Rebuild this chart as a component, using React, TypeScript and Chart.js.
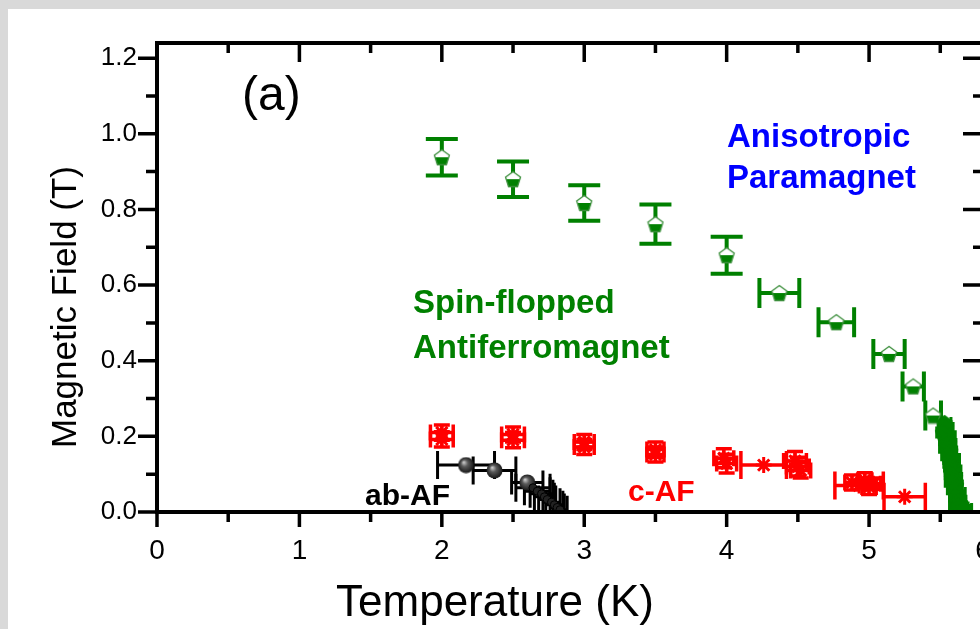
import React, { useEffect, useRef } from "react";
import { Chart, registerables } from "chart.js";
Chart.register(...registerables);

// ---------- data ----------
// Spin-flop boundary (field sweeps, vertical error bars)
const sfT = [2.0, 2.5, 3.0, 3.5, 4.0];
const sfH = [0.938, 0.88, 0.817, 0.761, 0.679];
const sfHErr = [0.048, 0.047, 0.047, 0.052, 0.049];
// Spin-flop boundary (temperature sweeps, horizontal error bars)
const sfT2 = [4.37, 4.77, 5.14, 5.31, 5.45];
const sfH2 = [0.579, 0.502, 0.418, 0.332, 0.255];
const sfTErr2 = [0.14, 0.125, 0.11, 0.075, 0.055];
// Paramagnet boundary (dense cluster)
const pmT = [5.53, 5.54, 5.52, 5.55, 5.54, 5.56, 5.55, 5.57, 5.56, 5.58, 5.57, 5.58, 5.59, 5.58, 5.6, 5.59, 5.61, 5.6, 5.62, 5.61, 5.63, 5.62, 5.64, 5.65, 5.63, 5.66];
const pmH = [0.235, 0.222, 0.21, 0.2, 0.19, 0.18, 0.17, 0.16, 0.15, 0.14, 0.13, 0.12, 0.11, 0.1, 0.09, 0.08, 0.07, 0.06, 0.05, 0.04, 0.03, 0.02, 0.012, 0.005, 0.015, 0.008];
const pmTErr = [0.045, 0.05, 0.045, 0.055, 0.045, 0.05, 0.055, 0.045, 0.05, 0.055, 0.045, 0.05, 0.055, 0.045, 0.05, 0.055, 0.045, 0.05, 0.055, 0.045, 0.05, 0.055, 0.055, 0.06, 0.055, 0.06];
// c-AF boundary
const afT = [2.0, 2.0, 2.5, 2.5, 3.0, 3.0, 3.5, 3.5, 3.98, 4.0, 4.26, 4.48, 4.5, 4.52, 4.88, 4.93, 4.97, 5.0, 5.03, 5.25];
const afH = [0.192, 0.21, 0.19, 0.205, 0.172, 0.185, 0.152, 0.165, 0.142, 0.128, 0.124, 0.135, 0.12, 0.11, 0.078, 0.07, 0.084, 0.066, 0.075, 0.04];
const afTErr = [0.08, 0.08, 0.08, 0.08, 0.07, 0.07, 0.06, 0.06, 0.07, 0.07, 0.16, 0.08, 0.08, 0.07, 0.05, 0.17, 0.05, 0.05, 0.05, 0.145];
const afHErr = [0.02, 0.02, 0.02, 0.02, 0.02, 0.02, 0.02, 0.02, 0.025, 0.025, 0, 0.025, 0.025, 0.02, 0.02, 0, 0.02, 0.02, 0.015, 0];
// ab-AF boundary (resolved points)
const abT = [2.17, 2.37, 2.6];
const abH = [0.124, 0.11, 0.078];
const abTErr = [0.2, 0.15, 0.11];
// ab-AF boundary (dense points near the transition)
const abT2 = [2.64, 2.67, 2.7, 2.72, 2.74, 2.77, 2.79, 2.81, 2.83];
const abH2 = [0.064, 0.055, 0.048, 0.04, 0.033, 0.026, 0.019, 0.012, 0.006];
const abTErr2 = [0.12, 0.09, 0.08, 0.07, 0.06, 0.06, 0.06, 0.05, 0.05];

const xTickValues = [0, 1, 2, 3, 4, 5, 5.8];
const xTickLabels = ["0", "1", "2", "3", "4", "5", "6"];
const yTickValues = [0, 0.2, 0.4, 0.6, 0.8, 1.0, 1.2];

const FONT = '"Liberation Sans", Arial, sans-serif';
const GREEN = "#008000";
const RED = "#ff0000";

function greenMarker(solid: boolean): HTMLCanvasElement {
  const c = document.createElement("canvas");
  c.width = 18;
  c.height = 18;
  const g = c.getContext("2d")!;
  const pts = [[9, 1.5], [16.5, 7], [13.5, 16.5], [4.5, 16.5], [1.5, 7]];
  g.beginPath();
  pts.forEach(([x, y], i) => (i ? g.lineTo(x, y) : g.moveTo(x, y)));
  g.closePath();
  g.fillStyle = solid ? GREEN : "#ffffff";
  g.fill();
  g.save();
  g.clip();
  g.fillStyle = GREEN;
  g.fillRect(0, 9, 18, 9);
  g.restore();
  g.strokeStyle = solid ? GREEN : "#3d8f3d";
  g.lineWidth = 1.3;
  g.stroke();
  return c;
}

function ballMarker(): HTMLCanvasElement {
  const c = document.createElement("canvas");
  c.width = 17;
  c.height = 17;
  const g = c.getContext("2d")!;
  const grad = g.createRadialGradient(6, 5.5, 0, 8.5, 8.5, 8.5);
  grad.addColorStop(0, "#d8d8d8");
  grad.addColorStop(0.4, "#5a5a5a");
  grad.addColorStop(1, "#111111");
  g.beginPath();
  g.arc(8.5, 8.5, 8, 0, Math.PI * 2);
  g.fillStyle = grad;
  g.fill();
  return c;
}

const decorPlugin = {
  id: "decor",
  beforeDatasetsDraw(chart: any) {
    const ctx = chart.ctx;
    const xs = chart.scales.x;
    const ys = chart.scales.y;
    const { bottom } = chart.chartArea;
    ctx.save();
    chart.data.datasets.forEach((ds: any) => {
      const eb = ds.errorBar;
      if (!eb) return;
      ctx.strokeStyle = eb.color;
      ctx.lineWidth = eb.width;
      ds.data.forEach((p: any) => {
        const px = xs.getPixelForValue(p.x);
        const py = ys.getPixelForValue(p.y);
        if (p.xe) {
          const x1 = xs.getPixelForValue(p.x - p.xe);
          const x2 = xs.getPixelForValue(p.x + p.xe);
          const cap = p.xe >= eb.bigErr ? eb.capBig : eb.capX;
          const yb = Math.min(py + cap / 2, bottom);
          ctx.beginPath();
          ctx.moveTo(x1, py);
          ctx.lineTo(x2, py);
          ctx.moveTo(x1, py - cap / 2);
          ctx.lineTo(x1, yb);
          ctx.moveTo(x2, py - cap / 2);
          ctx.lineTo(x2, yb);
          ctx.stroke();
        }
        if (p.ye) {
          const y1 = ys.getPixelForValue(p.y - p.ye);
          const y2 = ys.getPixelForValue(p.y + p.ye);
          const cap = eb.capY;
          ctx.beginPath();
          ctx.moveTo(px, y1);
          ctx.lineTo(px, y2);
          ctx.moveTo(px - cap / 2, y1);
          ctx.lineTo(px + cap / 2, y1);
          ctx.moveTo(px - cap / 2, y2);
          ctx.lineTo(px + cap / 2, y2);
          ctx.stroke();
        }
      });
    });
    ctx.restore();
  },
  afterDraw(chart: any) {
    const ctx = chart.ctx;
    const { left, right, top, bottom } = chart.chartArea;
    const xs = chart.scales.x;
    const ys = chart.scales.y;
    ctx.save();
    ctx.strokeStyle = "#000";
    ctx.lineWidth = 4;
    ctx.lineCap = "square";
    ctx.beginPath();
    ctx.rect(left, top, right - left, bottom - top);
    ctx.stroke();
    ctx.lineCap = "butt";
    ctx.lineWidth = 3.5;
    ctx.beginPath();
    for (let k = 0; k <= 11; k++) {
      const v = k * 0.5;
      const px = xs.getPixelForValue(v);
      const major = k % 2 === 0;
      ctx.moveTo(px, bottom);
      ctx.lineTo(px, bottom + (major ? 15 : 10));
      ctx.moveTo(px, top);
      ctx.lineTo(px, top + (major ? 19 : 10));
    }
    for (let k = 0; k <= 12; k++) {
      const v = k * 0.1;
      const py = ys.getPixelForValue(v);
      const major = k % 2 === 0;
      ctx.moveTo(left, py);
      ctx.lineTo(left - (major ? 19 : 11), py);
      ctx.moveTo(right, py);
      ctx.lineTo(right - (major ? 20 : 10), py);
    }
    ctx.stroke();

    ctx.fillStyle = "#000";
    ctx.font = `35px ${FONT}`;
    ctx.textAlign = "center";
    ctx.textBaseline = "alphabetic";
    ctx.save();
    ctx.translate(76, 307);
    ctx.rotate(-Math.PI / 2);
    ctx.fillText("Magnetic Field (T)", 0, 0);
    ctx.restore();

    ctx.font = `44px ${FONT}`;
    ctx.fillText("Temperature (K)", 495, 616);

    ctx.textAlign = "left";
    ctx.font = `48px ${FONT}`;
    ctx.fillText("(a)", 242, 110);

    ctx.font = `bold 33px ${FONT}`;
    ctx.fillStyle = "#0000ff";
    ctx.fillText("Anisotropic", 727, 147);
    ctx.fillText("Paramagnet", 727, 188);
    ctx.fillStyle = GREEN;
    ctx.fillText("Spin-flopped", 413, 313);
    ctx.fillText("Antiferromagnet", 413, 358);
    ctx.font = `bold 30px ${FONT}`;
    ctx.fillStyle = "#000";
    ctx.fillText("ab-AF", 365, 505);
    ctx.fillStyle = RED;
    ctx.fillText("c-AF", 628, 501);
    ctx.restore();
  },
};

export default function App() {
  const ref = useRef<HTMLCanvasElement>(null);
  useEffect(() => {
    const gm = greenMarker(false);
    const gmSolid = greenMarker(true);
    const bm = ballMarker();
    const datasets: any[] = [
      {
        label: "ab-AF dense",
        data: abT2.map((t, i) => ({ x: t, y: abH2[i], xe: abTErr2[i] })),
        pointStyle: "circle",
        pointRadius: 4,
        backgroundColor: "#222",
        borderColor: "#000",
        errorBar: { color: "#000", width: 3, capX: 28, capBig: 28, bigErr: 1, capY: 0 },
      },
      {
        label: "ab-AF",
        data: abT.map((t, i) => ({ x: t, y: abH[i], xe: abTErr[i] })),
        pointStyle: bm,
        pointRadius: 8,
        errorBar: { color: "#000", width: 3, capX: 24, capBig: 28, bigErr: 0.12, capY: 0 },
      },
      {
        label: "c-AF",
        data: afT.map((t, i) => ({ x: t, y: afH[i], xe: afTErr[i], ye: afHErr[i] })),
        pointStyle: "star",
        pointRadius: 8,
        borderColor: RED,
        backgroundColor: RED,
        pointBorderWidth: 3,
        errorBar: { color: RED, width: 3.5, capX: 16, capBig: 28, bigErr: 0.14, capY: 16 },
      },
      {
        label: "PM boundary",
        data: pmT.map((t, i) => ({ x: t, y: pmH[i], xe: pmTErr[i] })),
        pointStyle: gmSolid,
        pointRadius: 8,
        errorBar: { color: GREEN, width: 3, capX: 12, capBig: 12, bigErr: 1, capY: 0 },
      },
      {
        label: "SF T-sweep",
        data: sfT2.map((t, i) => ({ x: t, y: sfH2[i], xe: sfTErr2[i] })),
        pointStyle: gm,
        pointRadius: 8,
        errorBar: { color: GREEN, width: 4, capX: 30, capBig: 30, bigErr: 1, capY: 0 },
      },
      {
        label: "SF H-sweep",
        data: sfT.map((t, i) => ({ x: t, y: sfH[i], ye: sfHErr[i] })),
        pointStyle: gm,
        pointRadius: 8,
        errorBar: { color: GREEN, width: 4, capX: 0, capBig: 0, bigErr: 1, capY: 32 },
      },
    ];
    const chart = new Chart(ref.current!, {
      type: "scatter",
      data: { datasets },
      plugins: [decorPlugin],
      options: {
        animation: false,
        responsive: false,
        devicePixelRatio: 1,
        layout: { padding: { top: 43, right: 117, left: 0, bottom: 0 } },
        plugins: { legend: { display: false }, tooltip: { enabled: false } },
        scales: {
          x: {
            type: "linear",
            min: 0,
            max: 5.8,
            grid: { display: false, drawTicks: false },
            border: { display: false },
            afterBuildTicks: (s: any) => {
              s.ticks = xTickValues.map((v) => ({ value: v }));
            },
            afterFit: (s: any) => {
              s.height = 117;
            },
            ticks: {
              autoSkip: false,
              maxRotation: 0,
              padding: 22,
              color: "#000",
              font: { size: 28, family: FONT },
              callback: (v: any) => {
                const i = xTickValues.indexOf(Number(v));
                return i >= 0 ? xTickLabels[i] : "";
              },
            },
          },
          y: {
            type: "linear",
            min: 0,
            max: 1.24,
            grid: { display: false, drawTicks: false },
            border: { display: false },
            afterBuildTicks: (s: any) => {
              s.ticks = yTickValues.map((v) => ({ value: v }));
            },
            afterFit: (s: any) => {
              s.width = 157;
            },
            ticks: {
              autoSkip: false,
              padding: 20,
              color: "#000",
              font: { size: 26, family: FONT },
              callback: (v: any) => Number(v).toFixed(1),
            },
          },
        },
      } as any,
    });
    return () => chart.destroy();
  }, []);
  return (
    <div
      style={{
        position: "absolute",
        left: 0,
        top: 0,
        width: 980,
        height: 629,
        overflow: "hidden",
        background: "#d9d9d9",
      }}
    >
      <div style={{ position: "absolute", left: 8, top: 9, right: 0, bottom: 0, background: "#fff" }} />
      <canvas
        ref={ref}
        width={1100}
        height={629}
        style={{ position: "absolute", left: 0, top: 0, width: 1100, height: 629 }}
      />
    </div>
  );
}
